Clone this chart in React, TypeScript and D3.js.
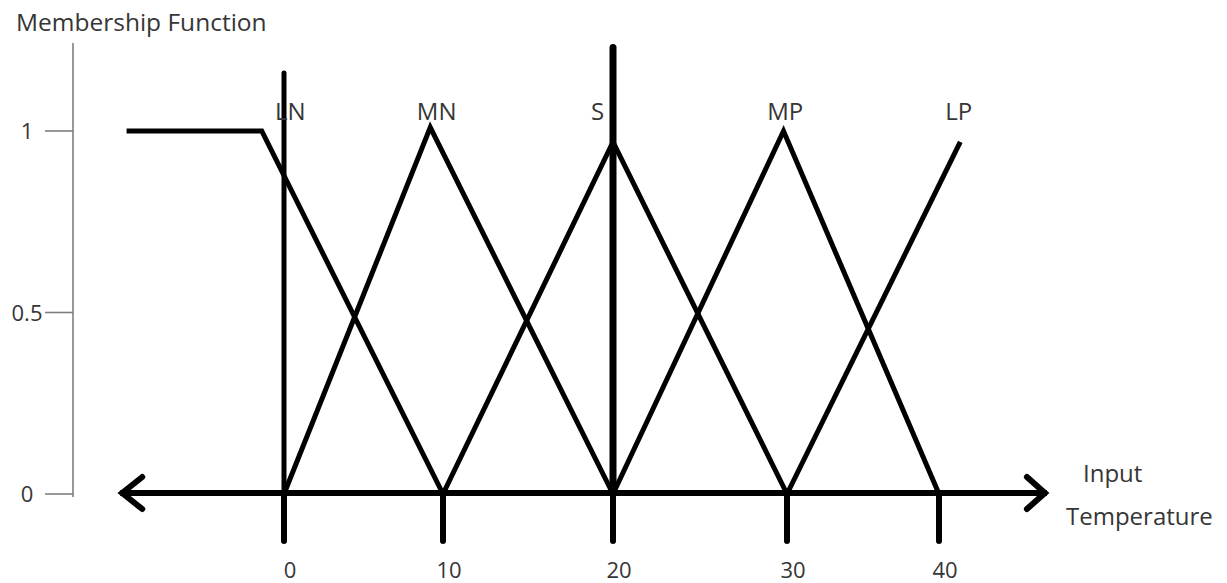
import React from 'react';
import * as d3 from 'd3';

// input temperature ticks
const tempTicks = [0, 10, 20, 30, 40];
const tempLabels = ['0', '10', '20', '30', '40'];

// membership axis ticks
const memberTicks = [0, 0.5, 1];
const memberLabels = ['0', '0.5', '1'];

// fuzzy sets, [temperature, membership]
const setNames = ['LN', 'MN', 'S', 'MP', 'LP'];
const LN: [number, number][] = [[-9.9, 1], [-1.4, 1], [10, 0]];
const MN: [number, number][] = [[0, 0], [9.2, 1.01], [20, 0]];
const S: [number, number][] = [[10, 0], [20, 0.97], [30, 0]];
const MP: [number, number][] = [[20, 0], [29.8, 1], [40, 0]];
const LP: [number, number][] = [[30, 0], [41.4, 0.97]];
const setLabelTemps = [0.4, 9.6, 19.1, 29.9, 41.3];
const setLabelLevel = 1.03;

// the two thick upright bars
const barTemps = [0, 20];
const barTops = [1.16, 1.23];

// extent of the double-headed temperature axis
const axisExtent = [-10.3, 47.1];

const textColor = '#363636';
const font = "'Open Sans', sans-serif";

export default function App() {
  const x = d3.scaleLinear().domain(tempTicks).range([284, 443, 613, 787, 939]);
  const y = d3.scaleLinear().domain([0, 1]).range([494, 131]);

  const line = d3
    .line<[number, number]>()
    .x(d => x(d[0]))
    .y(d => y(d[1]));

  const sets = [LN, MN, S, MP, LP];
  const x0 = x(axisExtent[0]);
  const x1 = x(axisExtent[1]);
  const ay = y(0) - 1;

  return (
    <svg width={1227} height={583} style={{ display: 'block', position: 'absolute', left: 0, top: 0 }}>
      <rect width={1227} height={583} fill="#fff" />

      {/* membership axis */}
      <text x={16} y={31} fontFamily={font} fontSize={24.5} fill={textColor}>Membership Function</text>
      <line x1={73} x2={73} y1={43} y2={y(0) + 3} stroke="#7f7f7f" strokeWidth={1.6} />
      {memberTicks.map((t, i) => (
        <g key={i}>
          <line x1={45} x2={73} y1={y(t)} y2={y(t)} stroke="#7f7f7f" strokeWidth={1.6} />
          <text x={27} y={y(t) + 8} textAnchor="middle" fontFamily={font} fontSize={22} fill={textColor}>
            {memberLabels[i]}
          </text>
        </g>
      ))}

      {/* temperature axis with arrows */}
      <line x1={x0} x2={x1} y1={ay} y2={ay} stroke="#000" strokeWidth={6} />
      <path d={`M${x0 + 22},${ay - 16} L${x0 + 2},${ay} L${x0 + 22},${ay + 16}`} fill="none" stroke="#000" strokeWidth={6} strokeLinecap="round" />
      <path d={`M${x1 - 20},${ay - 16} L${x1 - 2},${ay} L${x1 - 20},${ay + 16}`} fill="none" stroke="#000" strokeWidth={6} strokeLinecap="round" />
      {tempTicks.map((t, i) => (
        <g key={i}>
          <line x1={x(t)} x2={x(t)} y1={ay} y2={ay + 48} stroke="#000" strokeWidth={6} strokeLinecap="round" />
          <text x={x(t) + 6} y={578} textAnchor="middle" fontFamily={font} fontSize={22} fill={textColor}>
            {tempLabels[i]}
          </text>
        </g>
      ))}
      <text x={1083} y={482} fontFamily={font} fontSize={24} fill={textColor}>Input</text>
      <text x={1066} y={525} fontFamily={font} fontSize={24} fill={textColor}>Temperature</text>

      {/* upright bars */}
      {barTemps.map((t, i) => (
        <line key={i} x1={x(t)} x2={x(t)} y1={y(barTops[i])} y2={ay} stroke="#000" strokeWidth={i === 0 ? 5 : 7} strokeLinecap="round" />
      ))}

      {/* membership functions */}
      {sets.map((s, i) => (
        <path key={i} d={line(s) || ''} fill="none" stroke="#000" strokeWidth={5} strokeLinejoin="miter" />
      ))}
      {setNames.map((n, i) => (
        <text key={n} x={x(setLabelTemps[i])} y={y(setLabelLevel)} textAnchor="middle" fontFamily={font} fontSize={24} fill={textColor}>
          {n}
        </text>
      ))}
    </svg>
  );
}
